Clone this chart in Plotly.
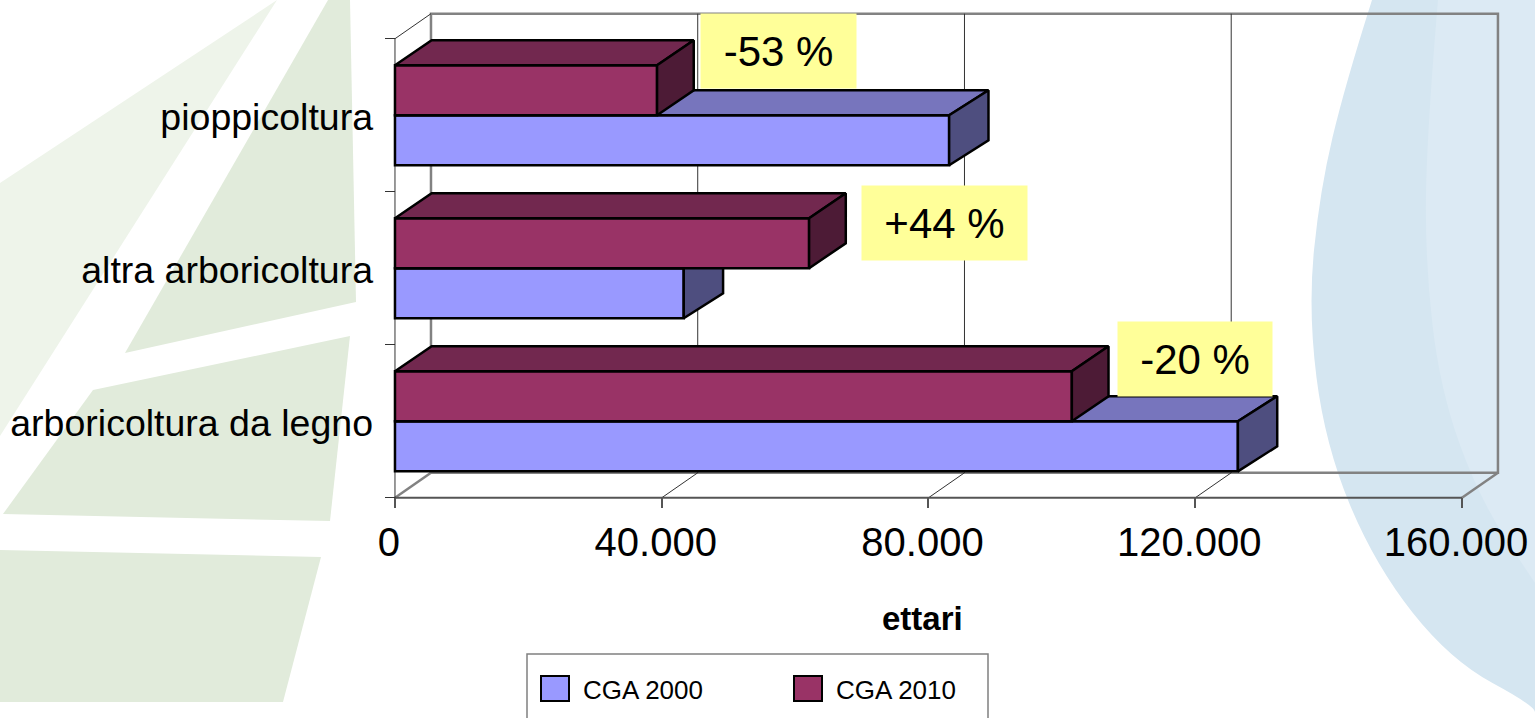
import plotly.graph_objects as go

# Hectares by crop type, two census years
categories = ["arboricoltura da legno", "altra arboricoltura", "pioppicoltura"]
cga_2000 = [126400, 43300, 83100]
cga_2010 = [101500, 62100, 39300]
change_labels = ["-20 %", "+44 %", "-53 %"]
x_ticks = [0, 40000, 80000, 120000, 160000]
x_tick_labels = ["0", "40.000", "80.000", "120.000", "160.000"]
series_names = ["CGA 2000", "CGA 2010"]

W, H = 1535, 718
FONT = "Liberation Sans"

# Axis ranges chosen so the plot fills the page
X_RANGE = [-59231, 170954]
Y_RANGE = [-1.939, 2.753]
BAR_H = 0.327
WALL_DX, WALL_DY = 5398, 0.1634   # depth of the chart box
BAR_DY = 0.1634                   # vertical depth of the bars
X_MAX = 160000
Y_LO, Y_HI = -0.5, 2.5

fig = go.Figure()


def line(xs, ys, color, width):
    fig.add_trace(go.Scatter(x=xs, y=ys, mode="lines", showlegend=False, hoverinfo="skip",
                             line=dict(color=color, width=width)))


# Back wall, floor and side wall outlines
GREY = "#828282"
line([WALL_DX, WALL_DX + X_MAX, WALL_DX + X_MAX, WALL_DX, WALL_DX],
     [Y_LO + WALL_DY, Y_LO + WALL_DY, Y_HI + WALL_DY, Y_HI + WALL_DY, Y_LO + WALL_DY], GREY, 2.5)
line([X_MAX, X_MAX + WALL_DX], [Y_LO, Y_LO + WALL_DY], GREY, 2.5)
line([0, WALL_DX], [Y_LO, Y_LO + WALL_DY], GREY, 2.5)
line([0, WALL_DX], [Y_HI, Y_HI + WALL_DY], "#333333", 1)
for t in x_ticks[1:-1]:
    line([t, t + WALL_DX, t + WALL_DX], [Y_LO, Y_LO + WALL_DY, Y_HI + WALL_DY], "#333333", 1)
line([0, X_MAX], [Y_LO, Y_LO], "#555555", 2)
line([0, 0], [Y_LO, Y_HI], "#333333", 1)


def prism(values, offset, depth, front, top, side, name, axis_no):
    """One series: front faces as bars, top and side faces as filled polygons."""
    xa, ya = f"x{axis_no}", f"y{axis_no}"
    fig.add_trace(go.Bar(y=list(range(len(values))), x=values, orientation="h", name=name,
                         width=BAR_H, offset=offset, xaxis=xa, yaxis=ya,
                         marker=dict(color=front, line=dict(color="black", width=2.5))))
    top_x, top_y, side_x, side_y = [], [], [], []
    for i, v in enumerate(values):
        y1 = i + offset + BAR_H
        y0 = i + offset
        top_x += [0, v, v + depth, depth, 0, None]
        top_y += [y1, y1, y1 + BAR_DY, y1 + BAR_DY, y1, None]
        side_x += [v, v + depth, v + depth, v, v, None]
        side_y += [y1, y1 + BAR_DY, y0 + BAR_DY, y0, y1, None]
    for xs, ys, color in ((top_x, top_y, top), (side_x, side_y, side)):
        fig.add_trace(go.Scatter(x=xs, y=ys, mode="lines", fill="toself", fillcolor=color,
                                 xaxis=xa, yaxis=ya, showlegend=False, hoverinfo="skip",
                                 line=dict(color="black", width=2.5)))


prism(cga_2000, -BAR_H, 5900, "#9999ff", "#7775bd", "#4e4e7f", series_names[0], 2)
prism(cga_2010, 0, 5500, "#993366", "#72284f", "#4d1b36", series_names[1], 3)


def to_paper(p):
    return f"{p[0]/W:.5f},{1 - p[1]/H:.5f}"


def poly(points, color):
    d = "M" + "L".join(to_paper(p) for p in points) + "Z"
    return dict(type="path", path=d, xref="paper", yref="paper", fillcolor=color,
                line=dict(width=0), layer="below")


def rounded(curve, color):
    """Smooth curve through the given points, closed along the right page edge."""
    d = "M" + to_paper(curve[0])
    for a, b in zip(curve[1:-1], curve[2:]):
        mid = ((a[0] + b[0]) / 2, (a[1] + b[1]) / 2)
        d += "Q" + to_paper(a) + " " + to_paper(mid)
    d += "L" + to_paper(curve[-1]) + "L" + to_paper((W, H)) + "L" + to_paper((W, 0)) + "Z"
    return dict(type="path", path=d, xref="paper", yref="paper", fillcolor=color,
                line=dict(width=0), layer="below")


# Decorative backdrop: pale green leaves on the left, blue discs on the right
shapes = [
    poly([(0, 183), (277, 0), (0, 436)], "#eef4ea"),
    poly([(328, 0), (350, 0), (356, 302), (125, 353)], "#e1ebdb"),
    poly([(350, 336), (330, 521), (3, 514), (93, 390)], "#e1ebdb"),
    poly([(0, 550), (321, 557), (283, 702), (0, 702)], "#e1ebdb"),
    rounded([(1372, 0), (1345, 85), (1320, 190), (1308, 310), (1325, 445), (1375, 565), (1450, 660),
             (1535, 706), (1535, 718)], "#d5e6f1"),
    rounded([(1438, 0), (1427, 130), (1425, 260), (1440, 390), (1480, 500), (1535, 583)], "#dceaf4"),
]


def px_rect(x0, y0, x1, y1, fill, line_color, width):
    return dict(type="rect", xref="paper", yref="paper", x0=x0 / W, x1=x1 / W, y0=1 - y0 / H, y1=1 - y1 / H,
                fillcolor=fill, line=dict(color=line_color, width=width))


# Legend box, clipped by the lower page edge, and its swatches
shapes += [
    px_rect(527, 654, 988, 730, "rgba(0,0,0,0)", "#808080", 1.5),
    px_rect(541, 676, 569, 701, "#9999ff", "black", 2),
    px_rect(794, 676, 822, 701, "#993366", "black", 2),
]

annotations = []


def label(text, px, py, size, xanchor="center", **kw):
    annotations.append(dict(text=text, x=px / W, y=1 - py / H, xref="paper", yref="paper", showarrow=False,
                            xanchor=xanchor, yanchor="middle",
                            font=dict(family=FONT, size=size, color="black"), **kw))


# Percent-change callouts
boxes = [(1118, 322, 1272, 396), (862, 186, 1027, 260), (701, 14, 856, 88)]
for text, (x0, y0, x1, y1) in zip(change_labels, boxes):
    label(text, (x0 + x1) / 2, (y0 + y1) / 2, 42, width=x1 - x0, height=y1 - y0,
          bgcolor="#ffff99", borderpad=0, align="center", valign="middle")

label("<b>ettari</b>", 923, 618, 33)
label(series_names[0], 581, 690, 26, xanchor="left")
label(series_names[1], 834, 690, 26, xanchor="left")

hidden = dict(visible=False, fixedrange=True)
fig.update_layout(
    width=W, height=H, margin=dict(l=0, r=0, t=0, b=0), autosize=False,
    paper_bgcolor="white", plot_bgcolor="rgba(0,0,0,0)", barmode="overlay", showlegend=False,
    shapes=shapes, annotations=annotations,
    font=dict(family=FONT, color="black"),
    xaxis=dict(range=X_RANGE, domain=[0, 1], anchor="free", position=1 - 497 / H, tickmode="array",
               tickvals=x_ticks, ticktext=x_tick_labels, ticks="outside", ticklen=10, tickwidth=1.5,
               tickcolor="#555555", tickfont=dict(family=FONT, size=40), showgrid=False, zeroline=False,
               showline=False, ticklabelstandoff=0, ticklabelshift=-6),
    yaxis=dict(range=Y_RANGE, domain=[0, 1], anchor="free", position=395 / W, tickmode="array",
               tickvals=[0, 1, 2], ticktext=categories, ticks="", tickfont=dict(family=FONT, size=37.5),
               showgrid=False, zeroline=False, showline=False, ticklabelstandoff=22, ticklabelshift=2,
               minor=dict(tickmode="array", tickvals=[-0.5, 0.5, 1.5, 2.5], ticks="outside", ticklen=10,
                          tickcolor="#333333", tickwidth=1, showgrid=False)),
    xaxis2=dict(range=X_RANGE, overlaying="x", anchor="y2", **hidden),
    yaxis2=dict(range=Y_RANGE, overlaying="y", anchor="x2", **hidden),
    xaxis3=dict(range=X_RANGE, overlaying="x", anchor="y3", **hidden),
    yaxis3=dict(range=Y_RANGE, overlaying="y", anchor="x3", **hidden),
)

fig.write_html("out.html", config=dict(displayModeBar=False))
